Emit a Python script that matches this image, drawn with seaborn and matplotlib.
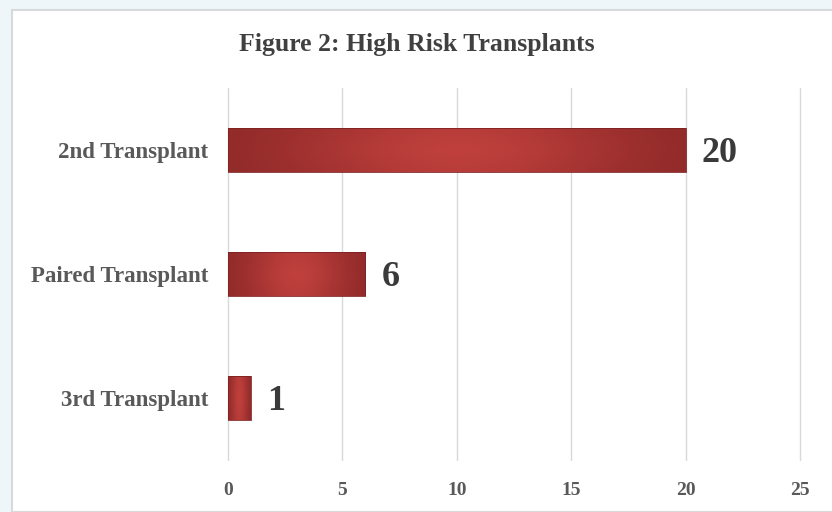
import numpy as np
import pandas as pd
import matplotlib
matplotlib.use("Agg")
import matplotlib.pyplot as plt
from matplotlib.patches import Rectangle
from matplotlib.colors import to_rgb
import seaborn as sns

# Data
categories = ["2nd Transplant", "Paired Transplant", "3rd Transplant"]
counts = [20, 6, 1]
x_ticks = [0, 5, 10, 15, 20, 25]
title = "Figure 2: High Risk Transplants"

df = pd.DataFrame({"category": categories, "count": counts})

sns.set_theme(style="white")
plt.rcParams["font.family"] = ["Liberation Serif", "DejaVu Serif"]

fig = plt.figure(figsize=(8.32, 5.12), dpi=100)
fig.patch.set_facecolor("#eef6f9")
# white chart panel with a thin grey frame
panel = Rectangle((12 / 832, 0), 1, 1 - 10 / 512, transform=fig.transFigure,
                  facecolor="white", edgecolor="#d6dadc", linewidth=1.5, zorder=-10)
fig.patches.append(panel)

ax = fig.add_axes([228 / 832, 1 - 460 / 512, (800 - 228) / 832, (460 - 88) / 512])
ax.set_facecolor("none")
ax.set_zorder(5)

sns.barplot(data=df, x="count", y="category", orient="h", width=0.35,
            color="#a83232", ax=ax, zorder=3)

ax.set_xticks(x_ticks)
ax.xaxis.grid(True, color="#d9d9d9", linewidth=1.0, zorder=0)
ax.yaxis.grid(False)
ax.set_axisbelow(True)
for gl in ax.get_xgridlines():
    gl.set_clip_on(False)
for s in ax.spines.values():
    s.set_visible(False)
ax.set_xlabel("")
ax.set_ylabel("")
ax.tick_params(axis="x", length=0, pad=16, labelsize=14, labelcolor="#595959")
ax.tick_params(axis="y", length=0, pad=14, labelsize=16.5, labelcolor="#595959")
for lab in ax.get_xticklabels() + ax.get_yticklabels():
    lab.set_fontweight("bold")

# gradient fill over each bar
dark = np.array(to_rgb("#8c2828"))
light = np.array(to_rgb("#bf403c"))
hx = np.linspace(0, 1, 256)
hprof = np.exp(-((hx - 0.5) / 0.36) ** 2)
vy = np.linspace(0, 1, 32)
vprof = 0.85 + 0.15 * np.exp(-((vy - 0.5) / 0.35) ** 2)
w = (hprof[None, :] * vprof[:, None])[..., None]
img = dark * (1 - w) + light * w
for bar in list(ax.patches):
    x0, y0 = bar.get_x(), bar.get_y()
    bw, bh = bar.get_width(), bar.get_height()
    bar.set_facecolor("none")
    bar.set_edgecolor("#7d2222")
    bar.set_linewidth(0.6)
    im = ax.imshow(img, extent=(x0, x0 + bw, y0 + bh, y0), aspect="auto",
                   interpolation="bicubic", zorder=2.5)
    im.set_clip_path(bar)

ax.set_xlim(0, 25)
ax.set_ylim(2.5, -0.5)

# value labels
for i, v in enumerate(counts):
    ax.text(v + 0.7, i + 0.03, str(v), va="center", ha="left", fontsize=26,
            fontweight="bold", color="#3a3a3a", zorder=4)

fig.text(417 / 832, 1 - 45 / 512, title, ha="center", va="center",
         fontsize=18.5, fontweight="bold", color="#404040")

fig.savefig("out.png", dpi=100, facecolor=fig.get_facecolor())
